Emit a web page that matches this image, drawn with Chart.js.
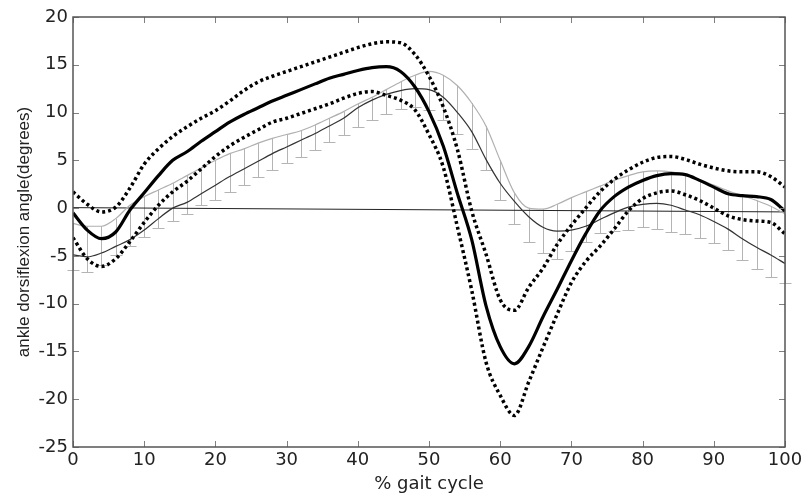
<!DOCTYPE html>
<html><head><meta charset="utf-8">
<script src="https://cdn.jsdelivr.net/npm/chart.js@4.4.0/dist/chart.umd.min.js"></script>
<style>html,body{margin:0;padding:0;background:#fff}#wrap{width:807px;height:495px}</style>
</head><body><div id="wrap"><canvas id="c" width="807" height="495"></canvas></div>
<script>
// ---- data ----
const gaitPct = [0,2,4,6,8,10,12,14,16,18,20,22,24,26,28,30,32,34,36,38,40,42,44,46,48,50,52,54,56,58,60,62,64,66,68,70,72,74,76,78,80,82,84,86,88,90,92,94,96,98,100];
const patientMean = [-0.5,-2.3,-3.2,-2.5,-0.2,1.6,3.4,5.0,5.9,7.0,8.0,9.0,9.8,10.5,11.2,11.8,12.4,13.0,13.6,14.0,14.4,14.7,14.8,14.3,12.7,10.1,6.5,1.5,-3.3,-10.2,-14.5,-16.3,-14.5,-11.4,-8.5,-5.5,-2.7,-0.3,1.2,2.2,2.9,3.4,3.6,3.5,2.9,2.2,1.5,1.3,1.2,0.9,-0.3];
const patientUpper = [1.7,0.4,-0.4,0.1,2.1,4.6,6.2,7.5,8.5,9.4,10.2,11.2,12.3,13.2,13.8,14.3,14.8,15.3,15.8,16.3,16.8,17.2,17.4,17.3,16.1,13.8,10.6,6.1,-0.3,-4.8,-9.6,-10.7,-8.3,-6.3,-3.8,-1.8,0.0,1.7,3.0,4.0,4.8,5.3,5.4,5.1,4.6,4.2,3.9,3.8,3.8,3.3,2.2];
const patientLower = [-3.1,-5.3,-6.1,-5.3,-3.5,-1.5,0.3,1.7,2.8,4.1,5.4,6.5,7.4,8.2,9.0,9.4,9.9,10.4,10.9,11.5,12.0,12.2,11.8,11.3,10.3,7.7,4.3,-2.0,-8.6,-16.1,-19.6,-21.7,-18.2,-14.6,-11.1,-7.8,-5.6,-4.0,-2.2,-0.3,1.0,1.6,1.8,1.4,0.8,0.0,-0.8,-1.2,-1.35,-1.5,-2.7];
const compareCurve = [-4.9,-5.1,-4.7,-4.0,-3.3,-2.3,-1.1,0.0,0.6,1.5,2.4,3.3,4.1,4.9,5.7,6.4,7.1,7.8,8.6,9.4,10.5,11.3,11.9,12.3,12.5,12.4,11.6,10.0,8.0,5.1,2.6,0.7,-0.9,-2.0,-2.4,-2.3,-1.9,-1.2,-0.5,0.1,0.4,0.5,0.3,-0.2,-0.7,-1.4,-2.2,-3.2,-4.1,-4.9,-5.8];
const normalMean = [-1.6,-1.9,-1.9,-1.1,0.3,1.2,1.9,2.6,3.4,4.2,5.0,5.7,6.2,6.8,7.3,7.7,8.1,8.7,9.4,10.1,10.9,11.6,12.4,13.2,13.9,14.3,13.9,12.8,11.0,8.6,5.0,1.6,0.0,-0.1,0.4,1.1,1.7,2.3,2.9,3.4,3.8,3.9,3.8,3.5,3.0,2.4,1.8,1.3,0.8,0.2,-0.6];
const normalLowerBar = [-6.5,-6.7,-6.0,-4.9,-4.0,-3.0,-2.1,-1.3,-0.6,0.3,0.9,1.7,2.4,3.3,4.0,4.7,5.4,6.1,6.9,7.6,8.5,9.2,9.9,10.4,10.6,10.3,9.2,7.8,6.2,4.0,0.8,-1.7,-3.5,-4.7,-5.3,-4.5,-3.5,-2.6,-2.4,-2.3,-2.0,-2.2,-2.5,-2.7,-3.1,-3.6,-4.4,-5.4,-6.4,-7.2,-7.8];
const zeroLineX = [0,100];
const zeroLineY = [0.05,-0.4];
const xTicks = [0,10,20,30,40,50,60,70,80,90,100];
const yTicks = [-25,-20,-15,-10,-5,0,5,10,15,20];

const pts = (xs, ys) => xs.map((x, i) => ({x: x, y: ys[i]}));

const framePlugin = {
  id: 'frame',
  beforeDatasetsDraw(chart) {
    const {ctx, scales: {x, y}} = chart;
    ctx.save();
    ctx.strokeStyle = '#b4b4b4';
    ctx.lineWidth = 1;
    for (let i = 0; i < gaitPct.length; i++) {
      const px = Math.round(x.getPixelForValue(gaitPct[i])) + 0.5;
      const y1 = y.getPixelForValue(normalMean[i]);
      const y2 = Math.round(y.getPixelForValue(normalLowerBar[i])) + 0.5;
      ctx.beginPath();
      ctx.moveTo(px, y1); ctx.lineTo(px, y2);
      ctx.moveTo(px - 6, y2); ctx.lineTo(px + 6, y2);
      ctx.stroke();
    }
    ctx.restore();
  },
  afterDraw(chart) {
    const {ctx, chartArea: a, scales: {x, y}} = chart;
    ctx.save();
    ctx.strokeStyle = '#808080';
    ctx.lineWidth = 1;
    const L = 6;
    ctx.beginPath();
    xTicks.forEach(v => {
      const px = Math.round(x.getPixelForValue(v)) + 0.5;
      ctx.moveTo(px, a.bottom); ctx.lineTo(px, a.bottom - L);
      ctx.moveTo(px, a.top); ctx.lineTo(px, a.top + L);
    });
    yTicks.forEach(v => {
      const py = Math.round(y.getPixelForValue(v)) + 0.5;
      ctx.moveTo(a.left, py); ctx.lineTo(a.left + L, py);
      ctx.moveTo(a.right, py); ctx.lineTo(a.right - L, py);
    });
    ctx.stroke();
    ctx.strokeStyle = '#555';
    ctx.lineWidth = 1.5;
    ctx.strokeRect(a.left, a.top, a.right - a.left, a.bottom - a.top);
    ctx.restore();
  }
};

const tickFont = {family: 'DejaVu Sans', size: 18};
new Chart(document.getElementById('c'), {
  type: 'line',
  data: {
    datasets: [
      {data: pts(zeroLineX, zeroLineY), borderColor: '#222', borderWidth: 1, order: 6},
      {data: pts(gaitPct, normalMean), borderColor: '#b0b0b0', borderWidth: 1.2, order: 5},
      {data: pts(gaitPct, compareCurve), borderColor: '#333', borderWidth: 1.2, order: 4},
      {data: pts(gaitPct, patientUpper), borderColor: '#000', borderWidth: 3.5, borderDash: [3, 3], order: 2},
      {data: pts(gaitPct, patientLower), borderColor: '#000', borderWidth: 3.5, borderDash: [3, 3], order: 2},
      {data: pts(gaitPct, patientMean), borderColor: '#000', borderWidth: 3.2, order: 1}
    ]
  },
  options: {
    responsive: false,
    animation: false,
    events: [],
    layout: {padding: {left: 0, right: 22, top: 17, bottom: 0}},
    elements: {point: {radius: 0}, line: {cubicInterpolationMode: 'monotone', fill: false, borderCapStyle: 'butt'}},
    plugins: {legend: {display: false}, tooltip: {enabled: false}},
    scales: {
      x: {
        type: 'linear', min: 0, max: 100,
        afterFit: s => { s.height = 48; },
        afterBuildTicks: s => { s.ticks = xTicks.map(v => ({value: v})); },
        grid: {display: false, drawTicks: false},
        border: {display: false},
        ticks: {font: tickFont, color: '#222', padding: 3, maxRotation: 0},
        title: {display: true, text: '% gait cycle', font: {family: 'DejaVu Sans', size: 18}, color: '#222', padding: {top: 0, bottom: 0}}
      },
      y: {
        type: 'linear', min: -25, max: 20,
        afterFit: s => { s.width = 73; },
        afterBuildTicks: s => { s.ticks = yTicks.map(v => ({value: v})); },
        grid: {display: false, drawTicks: false},
        border: {display: false},
        ticks: {font: tickFont, color: '#222', padding: 5},
        title: {display: true, text: 'ankle dorsiflexion angle(degrees)', font: {family: 'Liberation Sans', size: 17}, color: '#222', padding: {top: 14, bottom: 0}}
      }
    }
  },
  plugins: [framePlugin]
});
</script>
</body></html>
